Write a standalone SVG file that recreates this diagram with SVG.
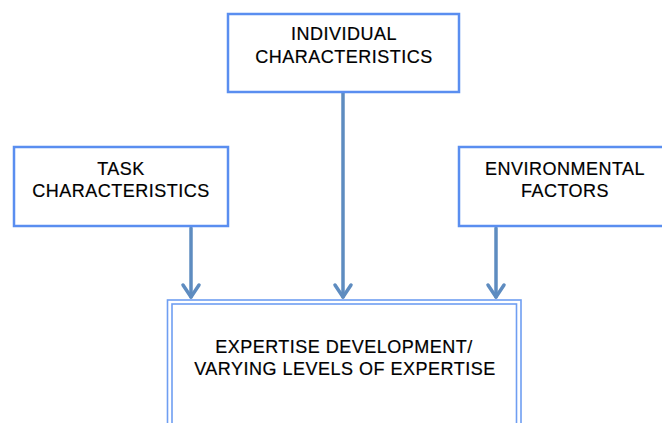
<svg xmlns="http://www.w3.org/2000/svg" width="662" height="423" viewBox="0 0 662 423">
<style>
.box{fill:#fff;stroke:#5a8ef0;stroke-width:2.5}
.dbl{fill:none;stroke:#6f9ef2;stroke-width:1.6}
.t{font-family:"Liberation Sans",Arial,sans-serif;font-size:18px;fill:#000;text-anchor:middle;letter-spacing:0.5px;stroke:#000;stroke-width:0.2}
.c{stroke:#5e8cc0;stroke-width:3.5;fill:none;stroke-linecap:round;stroke-linejoin:round}
</style>
<rect width="662" height="423" fill="#fff"/>
<g id="connectors">
<line class="c" x1="191" y1="228" x2="191" y2="297"/>
<polyline class="c" points="183,285 191,297 199,285"/>
<line class="c" x1="343" y1="93" x2="343" y2="297"/>
<polyline class="c" points="335,285 343,297 351,285"/>
<line class="c" x1="496" y1="228" x2="496" y2="297"/>
<polyline class="c" points="488,285 496,297 504,285"/>
</g>
<g id="individual">
<rect class="box" x="228" y="14" width="231" height="78"/>
<text class="t" x="344" y="40">INDIVIDUAL</text>
<text class="t" x="344" y="63">CHARACTERISTICS</text>
</g>
<g id="task">
<rect class="box" x="14" y="147" width="214" height="79"/>
<text class="t" x="121" y="175">TASK</text>
<text class="t" x="121" y="197">CHARACTERISTICS</text>
</g>
<g id="environmental">
<rect class="box" x="459" y="147" width="210" height="79"/>
<text class="t" x="565" y="175">ENVIRONMENTAL</text>
<text class="t" x="565" y="197">FACTORS</text>
</g>
<g id="expertise">
<rect x="167" y="300" width="354" height="140" fill="#fff"/>
<rect class="dbl" x="167.5" y="300" width="353.5" height="140"/>
<rect class="dbl" x="172" y="304" width="344.5" height="140"/>
<text class="t" x="344" y="353">EXPERTISE DEVELOPMENT/</text>
<text class="t" x="345" y="375">VARYING LEVELS OF EXPERTISE</text>
</g>
</svg>
